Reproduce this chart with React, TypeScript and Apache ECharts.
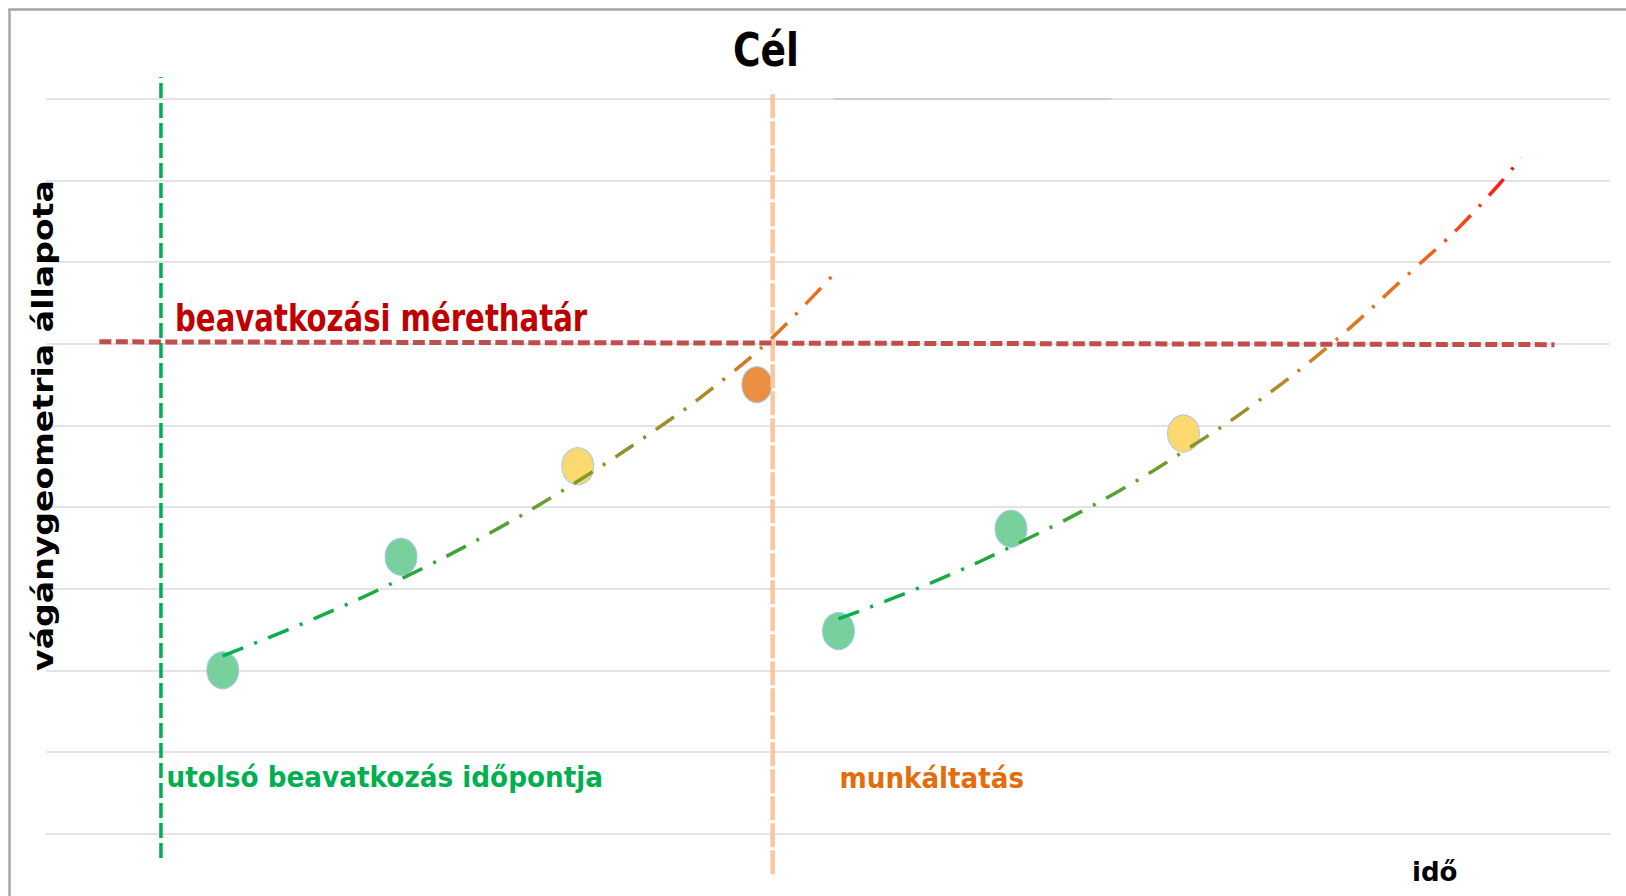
import React, { useEffect, useRef } from "react";
import * as echarts from "echarts";

// ---- data ----
const titleText = "Cél";
const yAxisName = "vágánygeometria állapota";
const xAxisName = "idő";
const thresholdLabel = "beavatkozási mérethatár";
const lastInterventionLabel = "utolsó beavatkozás időpontja";
const maintenanceLabel = "munkáltatás";

const measureTimes = [11.3, 22.7, 34.0, 45.45, 50.67, 61.7, 72.73];
const measureValues = [2.0, 3.39, 4.5, 5.5, 2.48, 3.735, 4.9];
const measureStatus = ["ok", "ok", "warn", "alert", "ok", "ok", "warn"];

const trend1Times = [11.3, 17.33, 22.7, 28.39, 34.02, 40.03, 43.61, 46.29, 48.72, 50.32];
const trend1Values = [2.175, 2.647, 3.119, 3.683, 4.32, 5.088, 5.607, 6.048, 6.517, 6.844];

const trend2Times = [50.67, 56.63, 62.69, 68.41, 72.95, 77.17, 82.23, 87.63, 90.28, 92.97, 94.31];
const trend2Values = [2.629, 3.074, 3.605, 4.176, 4.708, 5.251, 6.007, 6.946, 7.414, 7.968, 8.278];

const lastInterventionTime = 7.35;
const lastInterventionSpan = [-0.3, 9.27];
const maintenanceTime = 46.46;
const maintenanceSpan = [-0.5, 9.08];

const thresholdTimes = [3.41, 96.45];
const thresholdValues = [6.025, 5.99];

const topSegmentTimes = [50.38, 68.1];
const topSegmentValues = [9, 9];

const yTicks = [0, 1, 2, 3, 4, 5, 6, 7, 8, 9];

// ---- styles ----
const statusColor: Record<string, string> = {
  ok: "#78d09c",
  warn: "#fcd96f",
  alert: "#ea8f42",
};

const FONT = '"DejaVu Sans"';

function measure(text: string, font: string): number {
  const c = document.createElement("canvas");
  const ctx = c.getContext("2d");
  if (!ctx) return 1;
  ctx.font = font;
  return ctx.measureText(text).width || 1;
}

function fittedText(
  text: string,
  size: number,
  color: string,
  x: number,
  y: number,
  targetWidth: number,
  align: "left" | "center",
  extra: any = {}
) {
  const font = `bold ${size}px ${FONT}`;
  const sx = targetWidth / measure(text, font);
  return {
    type: "text",
    x,
    y,
    scaleX: sx,
    scaleY: extra.scaleY ?? 1,
    rotation: extra.rotation ?? 0,
    z: 100,
    style: {
      text,
      fill: color,
      font,
      textAlign: align,
      textVerticalAlign: "middle",
      align,
      verticalAlign: "middle",
    },
  };
}

export default function App() {
  const ref = useRef<HTMLDivElement | null>(null);

  useEffect(() => {
    document.body.style.margin = "0";
    if (!ref.current) return;
    const chart = echarts.init(ref.current, undefined, { renderer: "svg" });

    const scatterData = measureTimes.map((t, i) => ({
      value: [t, measureValues[i]],
      symbolSize: measureStatus[i] === "alert" ? [30, 36] : [32, 37],
      itemStyle: {
        color: statusColor[measureStatus[i]],
        borderColor: "#a9c6e6",
        borderWidth: 1,
        opacity: 1,
      },
    }));

    const grad1 = new echarts.graphic.LinearGradient(0, 0, 1, 0, [
      { offset: 0, color: "#00b050" },
      { offset: 0.29, color: "#22a83e" },
      { offset: 0.58, color: "#7e9a2a" },
      { offset: 0.74, color: "#a48a28" },
      { offset: 0.87, color: "#d27a22" },
      { offset: 1, color: "#f2681a" },
    ]);
    const grad2 = new echarts.graphic.LinearGradient(0, 0, 1, 0, [
      { offset: 0, color: "#00b050" },
      { offset: 0.25, color: "#22a83e" },
      { offset: 0.51, color: "#7e9a2a" },
      { offset: 0.61, color: "#a88a28" },
      { offset: 0.72, color: "#d88020" },
      { offset: 0.85, color: "#f06818" },
      { offset: 0.91, color: "#f84818" },
      { offset: 0.97, color: "#ff1a1a" },
      { offset: 1, color: "#ff0000" },
    ]);

    const dashDot = [22, 12, 3, 12];

    const yLen = 491;
    const ySize = 32;

    chart.setOption({
      animation: false,
      backgroundColor: "#ffffff",
      grid: { left: 46, right: 16, top: 99, bottom: 62.5, containLabel: false },
      xAxis: {
        type: "value",
        min: 0,
        max: 100,
        axisLine: { show: false },
        axisTick: { show: false },
        axisLabel: { show: false },
        splitLine: { show: false },
      },
      yAxis: {
        type: "value",
        min: yTicks[0],
        max: yTicks[yTicks.length - 1],
        interval: 1,
        axisLine: { show: false },
        axisTick: { show: false },
        axisLabel: { show: false },
        splitLine: { show: true, lineStyle: { color: "#e3e3e3", width: 2 } },
      },
      series: [
        {
          name: "topSegment",
          type: "line",
          data: topSegmentTimes.map((t, i) => [t, topSegmentValues[i]]),
          showSymbol: false,
          symbol: "none",
          lineStyle: { color: "#cdcdcd", width: 2 },
          z: 1,
          silent: true,
        },
        {
          name: "mérések",
          type: "scatter",
          data: scatterData,
          z: 3,
        },
        {
          name: lastInterventionLabel,
          type: "line",
          clip: false,
          data: lastInterventionSpan.map((v) => [lastInterventionTime, v]),
          symbol: "none",
          lineStyle: { color: "#00b050", width: 3.5, type: [15, 5] },
          z: 4,
        },
        {
          name: maintenanceLabel,
          type: "line",
          clip: false,
          data: maintenanceSpan.map((v) => [maintenanceTime, v]),
          symbol: "none",
          lineStyle: { color: "#f8c6a0", width: 4.5, type: [24, 3] },
          z: 4,
        },
        {
          name: thresholdLabel,
          type: "line",
          clip: false,
          data: thresholdTimes.map((t, i) => [t, thresholdValues[i]]),
          symbol: "none",
          lineStyle: { color: "#bf4f4f", width: 5, type: [12, 4.5] },
          z: 5,
        },
        {
          name: "trend1",
          type: "line",
          clip: false,
          smooth: 0.4,
          data: trend1Times.map((t, i) => [t, trend1Values[i]]),
          symbol: "none",
          lineStyle: { color: grad1, width: 3.5, type: dashDot, cap: "butt" },
          z: 6,
        },
        {
          name: "trend2",
          type: "line",
          clip: false,
          smooth: 0.4,
          data: trend2Times.map((t, i) => [t, trend2Values[i]]),
          symbol: "none",
          lineStyle: { color: grad2, width: 3.5, type: dashDot, cap: "butt" },
          z: 6,
        },
      ],
      graphic: [
        {
          type: "rect",
          shape: { x: 9.5, y: 9.5, width: 1800, height: 1000 },
          style: { fill: "none", stroke: "#a6a6a6", lineWidth: 2.5 },
          z: 90,
          silent: true,
        },
        fittedText(titleText, 46, "#000000", 766, 50.5, 66, "center"),
        fittedText(thresholdLabel, 38, "#c00000", 175, 318.5, 412, "left"),
        fittedText(lastInterventionLabel, 29, "#00b050", 166.5, 777, 437, "left"),
        fittedText(maintenanceLabel, 29, "#e46c0a", 839.5, 778, 184.5, "left"),
        fittedText(xAxisName, 27, "#000000", 1412, 871, 45.5, "left"),
        fittedText(yAxisName, ySize, "#000000", 43, 425.5, yLen, "center", {
          rotation: Math.PI / 2,
          scaleY: 28.5 / (ySize * 0.996),
        }),
      ],
    });

    return () => {
      chart.dispose();
    };
  }, []);

  return <div ref={ref} style={{ width: 1626, height: 896 }} />;
}
